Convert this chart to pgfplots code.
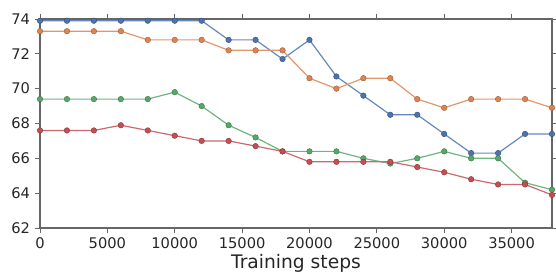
\documentclass[border=0pt]{standalone}
\usepackage{fontspec}
\setmainfont{DejaVu Sans}
\usepackage{pgfplots}
\pgfplotsset{compat=1.18}
\definecolor{sblue}{HTML}{4C72B0}
\definecolor{sorange}{HTML}{DD8452}
\definecolor{sgreen}{HTML}{55A868}
\definecolor{sred}{HTML}{C44E52}
\definecolor{txt}{HTML}{262626}
\begin{document}
\begin{tikzpicture}
\begin{axis}[
  name=ax, at={(0,0)}, anchor=south west,
  scale only axis, width=384pt, height=156.75pt,
  xmin=0, xmax=38000, ymin=62, ymax=74,
  xtick={0,5000,...,35000}, ytick={62,64,...,74},
  scaled x ticks=false,
  /pgf/number format/assume math mode=true,
  xticklabel style={/pgf/number format/1000 sep={}, font=\fontsize{11}{13}\selectfont, text=txt},
  yticklabel style={font=\fontsize{11}{13}\selectfont, text=txt},
  tick align=outside, tick pos=both,
  xticklabel pos=lower, yticklabel pos=left,
  major tick length=4pt,
  every tick/.style={gray!80!black, line width=0.6pt},
  axis line style={gray!80!black, line width=0.8pt},
  xlabel={Training steps}, xlabel style={font=\fontsize{14}{16}\selectfont, text=txt, yshift=3pt},
  every axis plot/.append style={line width=0.9pt, mark=*, mark size=2.1pt},
  clip=false,
]
\addplot[sblue!85, mark options={fill=sblue, draw=sblue!70!black, line width=0.3pt}] coordinates {
(0,73.9)(2000,73.9)(4000,73.9)(6000,73.9)(8000,73.9)(10000,73.9)(12000,73.9)(14000,72.8)(16000,72.8)(18000,71.7)(20000,72.8)(22000,70.7)(24000,69.6)(26000,68.5)(28000,68.5)(30000,67.4)(32000,66.3)(34000,66.3)(36000,67.4)(38000,67.4)};
\addplot[sorange!85, mark options={fill=sorange, draw=sorange!70!black, line width=0.3pt}] coordinates {
(0,73.3)(2000,73.3)(4000,73.3)(6000,73.3)(8000,72.8)(10000,72.8)(12000,72.8)(14000,72.2)(16000,72.2)(18000,72.2)(20000,70.6)(22000,70.0)(24000,70.6)(26000,70.6)(28000,69.4)(30000,68.9)(32000,69.4)(34000,69.4)(36000,69.4)(38000,68.9)};
\addplot[sgreen!85, mark options={fill=sgreen, draw=sgreen!70!black, line width=0.3pt}] coordinates {
(0,69.4)(2000,69.4)(4000,69.4)(6000,69.4)(8000,69.4)(10000,69.8)(12000,69.0)(14000,67.9)(16000,67.2)(18000,66.4)(20000,66.4)(22000,66.4)(24000,66.0)(26000,65.7)(28000,66.0)(30000,66.4)(32000,66.0)(34000,66.0)(36000,64.6)(38000,64.2)};
\addplot[sred!85, mark options={fill=sred, draw=sred!70!black, line width=0.3pt}] coordinates {
(0,67.6)(2000,67.6)(4000,67.6)(6000,67.9)(8000,67.6)(10000,67.3)(12000,67.0)(14000,67.0)(16000,66.7)(18000,66.4)(20000,65.8)(22000,65.8)(24000,65.8)(26000,65.8)(28000,65.5)(30000,65.2)(32000,64.8)(34000,64.5)(36000,64.5)(38000,63.9)};
\end{axis}
\pgfresetboundingbox
\path ([shift={(-30pt,-33.75pt)}]ax.south west) rectangle ([shift={(3pt,14.25pt)}]ax.north east);
\end{tikzpicture}
\end{document}
